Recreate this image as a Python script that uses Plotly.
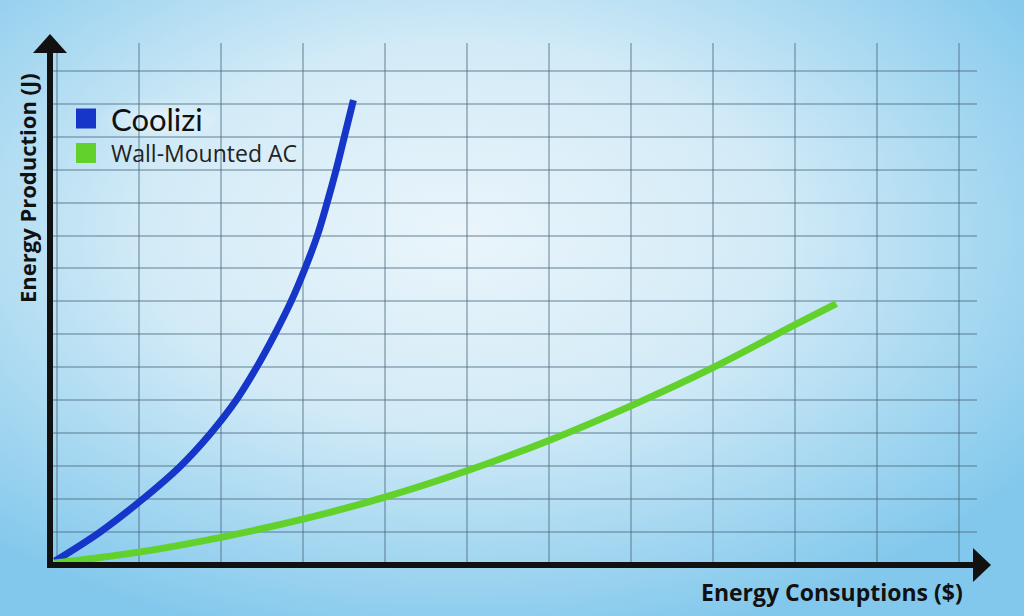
import plotly.graph_objects as go

W, H = 1024, 616

# grid units: one column per x step, one row per y step
coolizi_x = [0.06, 0.61, 1.13, 1.59, 1.96, 2.27, 2.52, 2.74, 2.94, 3.11, 3.26, 3.38, 3.49, 3.59, 3.70]
coolizi_y = [0.12, 1.00, 2.00, 3.00, 4.00, 5.00, 6.00, 7.00, 8.00, 9.00, 10.00, 11.00, 12.00, 13.00, 14.11]

wall_ac_x = [0.06, 1.085, 2.085, 3.085, 4.085, 5.085, 6.085, 7.085, 8.085, 9.07, 9.59]
wall_ac_y = [0.06, 0.39, 0.84, 1.39, 2.06, 2.86, 3.78, 4.83, 5.99, 7.27, 7.93]

series_names = ["Coolizi", "Wall-Mounted AC"]
series_colors = ["#1536c9", "#62d12c"]
legend_fonts = [dict(family="Lato", size=31, color="#111111"),
                dict(family="Open Sans", size=23, color="#222222")]

x_title = "Energy Consuptions ($)"
y_title = "Energy Production (J)"

# plot area in pixels
L, R, T, B = 50, 977, 43, 565


def px(x):
    return (x - L) / (R - L)


def py(y):
    return (B - y) / (B - T)


bg_svg = (
    "data:image/svg+xml;utf8,"
    "<svg xmlns='http://www.w3.org/2000/svg' width='1024' height='616'>"
    "<defs><radialGradient id='g' cx='45%' cy='38%' r='68%'>"
    "<stop offset='0' stop-color='%23eaf5fb'/>"
    "<stop offset='0.45' stop-color='%23d3ebf7'/>"
    "<stop offset='1' stop-color='%2382c8ec'/>"
    "</radialGradient>"
    "<radialGradient id='w' cx='50%' cy='50%' r='50%'>"
    "<stop offset='0' stop-color='white' stop-opacity='0.55'/>"
    "<stop offset='1' stop-color='white' stop-opacity='0'/>"
    "</radialGradient></defs>"
    "<rect width='1024' height='616' fill='url(%23g)'/>"
    "<ellipse cx='160' cy='119' rx='62' ry='22' fill='url(%23w)'/></svg>"
)

fig = go.Figure()

for xs, ys, name, color in zip([coolizi_x, wall_ac_x], [coolizi_y, wall_ac_y],
                               series_names, series_colors):
    fig.add_trace(go.Scatter(
        x=xs, y=ys, name=name, mode="lines",
        line=dict(color=color, width=7, shape="spline", smoothing=1.0),
        showlegend=False, hoverinfo="skip"
    ))

shapes = []
annotations = []

# axes with arrows
axis_style = dict(color="#111111", width=6)
shapes.append(dict(type="line", xref="paper", yref="paper",
                   x0=px(47), x1=px(976), y0=py(565), y1=py(565), line=axis_style))
shapes.append(dict(type="line", xref="paper", yref="paper",
                   x0=px(50), x1=px(50), y0=py(568), y1=py(50), line=axis_style))
shapes.append(dict(type="path", xref="paper", yref="paper",
                   path=f"M {px(973)} {py(548)} L {px(991)} {py(565)} L {px(973)} {py(582)} Z",
                   fillcolor="#111111", line=dict(width=0)))
shapes.append(dict(type="path", xref="paper", yref="paper",
                   path=f"M {px(33)} {py(53)} L {px(50)} {py(34)} L {px(67)} {py(53)} Z",
                   fillcolor="#111111", line=dict(width=0)))

# legend: squares and labels
for i, (name, color, font) in enumerate(zip(series_names, series_colors, legend_fonts)):
    cy = 118.5 + 34.5 * i
    shapes.append(dict(type="rect", xref="paper", yref="paper",
                       x0=px(76), x1=px(96), y0=py(cy + 10), y1=py(cy - 10),
                       fillcolor=color, line=dict(width=0)))
    annotations.append(dict(text=name, xref="paper", yref="paper",
                            x=px(109), y=py(cy), xanchor="left", yanchor="middle",
                            showarrow=False, font=font))

annotations.append(dict(text=f"<b>{x_title}</b>", xref="paper", yref="paper",
                        x=px(832), y=py(592), xanchor="center", yanchor="middle",
                        showarrow=False,
                        font=dict(family="Open Sans", size=23, color="#111111")))
annotations.append(dict(text=f"<b>{y_title}</b>", xref="paper", yref="paper",
                        x=px(27), y=py(188), xanchor="center", yanchor="middle",
                        textangle=-90, showarrow=False,
                        font=dict(family="Open Sans", size=22, color="#111111")))

grid_color = "rgba(70,100,120,0.4)"
fig.update_layout(
    width=W, height=H,
    margin=dict(l=L, r=W - R, t=T, b=H - B),
    paper_bgcolor="#b9e0f4",
    plot_bgcolor="rgba(0,0,0,0)",
    images=[dict(source=bg_svg, xref="paper", yref="paper",
                 x=px(0), y=py(0), sizex=px(W) - px(0), sizey=py(0) - py(H),
                 xanchor="left", yanchor="top", sizing="stretch", layer="below")],
    xaxis=dict(range=[0, (R - L) / 82], tick0=(139 - L) / 82, dtick=1,
               showgrid=True, gridcolor=grid_color, gridwidth=1.5,
               showticklabels=False, zeroline=False, showline=False, ticks=""),
    yaxis=dict(range=[0, (B - T) / 32.95], tick0=0, dtick=1,
               showgrid=True, gridcolor=grid_color, gridwidth=1.5,
               showticklabels=False, zeroline=False, showline=False, ticks=""),
    shapes=shapes,
    annotations=annotations,
    showlegend=False,
)

fig.write_html("out.html",
               config={"displayModeBar": False},
               post_script="document.body.style.margin='0';"
                           "document.body.style.overflow='hidden';")
